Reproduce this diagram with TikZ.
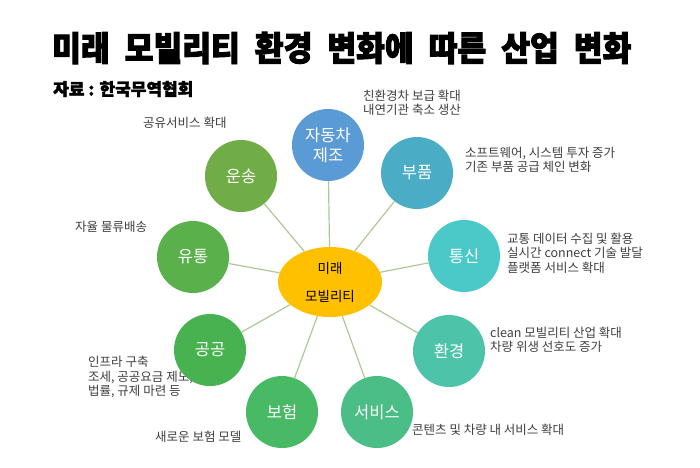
\documentclass[tikz,border=0pt]{standalone}
\usepackage{fontspec}
\usetikzlibrary{shapes.geometric}
\newfontfamily\kr{Noto Sans CJK KR}[BoldFeatures={FakeBold=1.2}]
\newfontfamily\krtitle{Noto Sans CJK KR}[BoldFeatures={FakeBold=2.8, FakeStretch=0.92}]
\newfontfamily\krsrc{Noto Sans CJK KR}[BoldFeatures={FakeBold=2.2}]
\newcommand\tgap{\hspace{15pt}}
\definecolor{txtgray}{HTML}{3F3F3F}
\definecolor{linkgreen}{HTML}{AFC995}
\definecolor{hubyellow}{HTML}{FFC000}
\definecolor{cUnsong}{HTML}{70AD47}
\definecolor{cYutong}{HTML}{5AB04B}
\definecolor{cGonggong}{HTML}{48B250}
\definecolor{cBoheom}{HTML}{48B964}
\definecolor{cService}{HTML}{4ABE86}
\definecolor{cHwan}{HTML}{4DC4AA}
\definecolor{cTongsin}{HTML}{4BC8C8}
\definecolor{cBupum}{HTML}{4BACC6}
\definecolor{cJadong}{HTML}{5B9BD5}
\tikzset{
  bubble/.style={circle, minimum size=72pt, inner sep=0pt, text=white,
    font=\kr\fontsize{16.5}{20}\selectfont, align=center},
  hub/.style={ellipse, fill=hubyellow, minimum width=104pt, minimum height=70pt,
    inner sep=0pt, text=black, font=\kr\fontsize{13.5}{28}\selectfont, align=center},
  note/.style={anchor=west, inner sep=0pt, text=txtgray, align=left,
    font=\kr\fontsize{12.5}{14.5}\selectfont},
  link/.style={draw=linkgreen, line width=1.2pt}
}
\begin{document}
\begin{tikzpicture}[x=1pt, y=-1pt]
\useasboundingbox (0,0) rectangle (700,467);
\fill[white] (0,0) rectangle (700,467);
% title
\node[anchor=west, inner sep=0pt, font={\krtitle\bfseries\fontsize{34}{36}\selectfont}] (title) at (52,48)
  {미래\tgap 모빌리티\tgap 환경\tgap 변화에\tgap 따른\tgap 산업\tgap 변화};
\node[anchor=west, inner sep=0pt, font={\krsrc\bfseries\fontsize{17}{19}\selectfont}] (source) at (53,89)
  {자료 : 한국무역협회};
% notes
\node[note] (n1) at (143,123) {공유서비스 확대};
\node[note] (n2) at (363,103) {친환경차 보급 확대\\내연기관 축소 생산};
\node[note] (n3) at (465,160) {소프트웨어, 시스템 투자 증가\\기존 부품 공급 체인 변화};
\node[note] (n4) at (507,253) {교통 데이터 수집 및 활용\\실시간 connect 기술 발달\\플랫폼 서비스 확대};
\node[note] (n5) at (75,227) {자율 물류배송};
\node[note] (n6) at (88,377) {인프라 구축\\조세, 공공요금 제도,\\법률, 규제 마련 등};
\node[note] (n7) at (155,437) {새로운 보험 모델};
\node[note] (n8) at (412,430) {콘텐츠 및 차량 내 서비스 확대};
\node[note] (n9) at (490,340) {clean 모빌리티 산업 확대\\차량 위생 선호도 증가};
% hub and bubbles
\node[hub] (hub) at (330,282) {미래\\모빌리티};
\node[bubble, fill=cJadong] (jadong) at (328,145) {자동차\\제조};
\node[bubble, fill=cBupum] (bupum) at (417,173) {부품};
\node[bubble, fill=cTongsin] (tongsin) at (464,256) {통신};
\node[bubble, fill=cHwan] (hwan) at (449,351) {환경};
\node[bubble, fill=cService] (service) at (377,412) {서비스};
\node[bubble, fill=cBoheom] (boheom) at (282,412) {보험};
\node[bubble, fill=cGonggong] (gonggong) at (210,350) {공공};
\node[bubble, fill=cYutong] (yutong) at (193,257) {유통};
\node[bubble, fill=cUnsong] (unsong) at (241,176) {운송};
% links
\foreach \b in {jadong,bupum,tongsin,hwan,service,boheom,gonggong,yutong,unsong}
  \draw[link] (hub) -- (\b);
\end{tikzpicture}
\end{document}
